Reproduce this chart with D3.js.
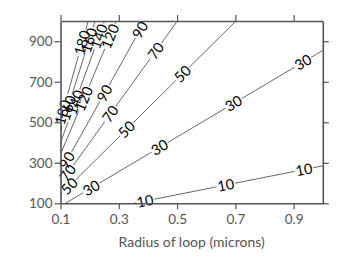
<!DOCTYPE html>
<html>
<head>
<meta charset="utf-8">
<script src="https://cdn.jsdelivr.net/npm/d3@7"></script>
<style>
  body { margin: 0; background: #fff; }
  #container { width: 338px; height: 262px; }
</style>
</head>
<body>
<div id="container"></div>
<script>
// contour levels and where each line crosses the frame (radius, y)
var levels = [10, 30, 50, 70, 90, 120, 140, 160, 180];
var lineStart = [[0.351, 100], [0.117, 100], [0.1, 142], [0.1, 200], [0.1, 256], [0.1, 342], [0.1, 399], [0.1, 456], [0.1, 513]];
var lineEnd = [[1.0, 285], [1.0, 855], [0.702, 1000], [0.501, 1000], [0.39, 1000], [0.292, 1000], [0.251, 1000], [0.219, 1000], [0.195, 1000]];
// radius at which each line carries its labels
var labelAt = [
  [0.39, 0.667, 0.935],
  [0.206, 0.44, 0.694, 0.932],
  [0.13, 0.327, 0.519],
  [0.125, 0.271, 0.427],
  [0.122, 0.251, 0.373],
  [0.18, 0.27],
  [0.15, 0.232],
  [0.125, 0.198],
  [0.107, 0.174]
];
var xTicks = [0.1, 0.3, 0.5, 0.7, 0.9];
var yTicks = [100, 300, 500, 700, 900];
var xTitle = "Radius of loop (microns)";

var svg = d3.select("#container").append("svg")
    .attr("width", 338)
    .attr("height", 262);

var x = d3.scaleLinear().domain([0.1, 1.0]).range([60.5, 322.8]);
var y = d3.scaleLinear().domain([100, 1000]).range([203.3, 21]);

svg.append("clipPath").attr("id", "plot")
  .append("rect")
    .attr("x", x(0.1)).attr("y", y(1000))
    .attr("width", x(1.0) - x(0.1)).attr("height", y(100) - y(1000));

var lines = levels.map((l, i) => ({ level: l, a: lineStart[i], b: lineEnd[i], labels: labelAt[i] }));

svg.append("g")
    .attr("clip-path", "url(#plot)")
  .selectAll("line")
  .data(lines)
  .join("line")
    .attr("x1", d => x(d.a[0])).attr("y1", d => y(d.a[1]))
    .attr("x2", d => x(d.b[0])).attr("y2", d => y(d.b[1]))
    .style("stroke", "#666")
    .style("stroke-width", 1);

var labels = [];
lines.forEach(d => {
  var ang = Math.atan2(y(d.b[1]) - y(d.a[1]), x(d.b[0]) - x(d.a[0])) * 180 / Math.PI;
  d.labels.forEach(r => {
    var t = (r - d.a[0]) / (d.b[0] - d.a[0]);
    var v = d.a[1] + t * (d.b[1] - d.a[1]);
    labels.push({ text: d.level, px: x(r), py: y(v), ang: ang });
  });
});

var font = "Lato, 'DejaVu Sans', sans-serif";

// gaps cut into the lines under the labels
svg.append("g").selectAll("rect")
  .data(labels)
  .join("rect")
    .attr("transform", d => `translate(${d.px},${d.py}) rotate(${d.ang})`)
    .attr("x", d => -String(d.text).length * 4.2 - 1)
    .attr("y", -5)
    .attr("width", d => String(d.text).length * 8.4 + 2)
    .attr("height", 10)
    .style("fill", "#fff");

svg.append("g").selectAll("text")
  .data(labels)
  .join("text")
    .attr("transform", d => `translate(${d.px},${d.py}) rotate(${d.ang})`)
    .attr("text-anchor", "middle")
    .attr("dy", "0.36em")
    .style("font-family", font)
    .style("font-size", "14.5px")
    .style("fill", "#000")
    .text(d => d.text);

function styleAxis(g) {
  g.select(".domain").style("stroke", "#555").style("stroke-width", 1.6);
  g.selectAll(".tick line").style("stroke", "#555").style("stroke-width", 1.2);
  g.selectAll(".tick text")
    .style("font-family", font)
    .style("font-size", "13.5px")
    .style("fill", "#555");
}

svg.append("g")
    .attr("transform", `translate(0,${y(100)})`)
    .call(d3.axisBottom(x).tickValues(xTicks).tickSize(6).tickSizeOuter(0).tickPadding(5).tickFormat(d3.format(".1f")))
    .call(styleAxis);

svg.append("g")
    .attr("transform", `translate(0,${y(1000)})`)
    .call(d3.axisTop(x).tickValues(xTicks).tickSize(6).tickSizeOuter(0).tickFormat(""))
    .call(styleAxis);

svg.append("g")
    .attr("transform", `translate(${x(0.1)},0)`)
    .call(d3.axisLeft(y).tickValues(yTicks).tickSize(6).tickSizeOuter(0).tickPadding(2))
    .call(styleAxis);

svg.append("g")
    .attr("transform", `translate(${x(1.0)},0)`)
    .call(d3.axisRight(y).tickValues(yTicks).tickSize(6).tickSizeOuter(0).tickFormat(""))
    .call(styleAxis);

svg.append("text")
    .attr("x", (x(0.1) + x(1.0)) / 2)
    .attr("y", 247)
    .attr("text-anchor", "middle")
    .style("font-family", font)
    .style("font-size", "14px")
    .style("fill", "#555")
    .text(xTitle);
</script>
</body>
</html>
